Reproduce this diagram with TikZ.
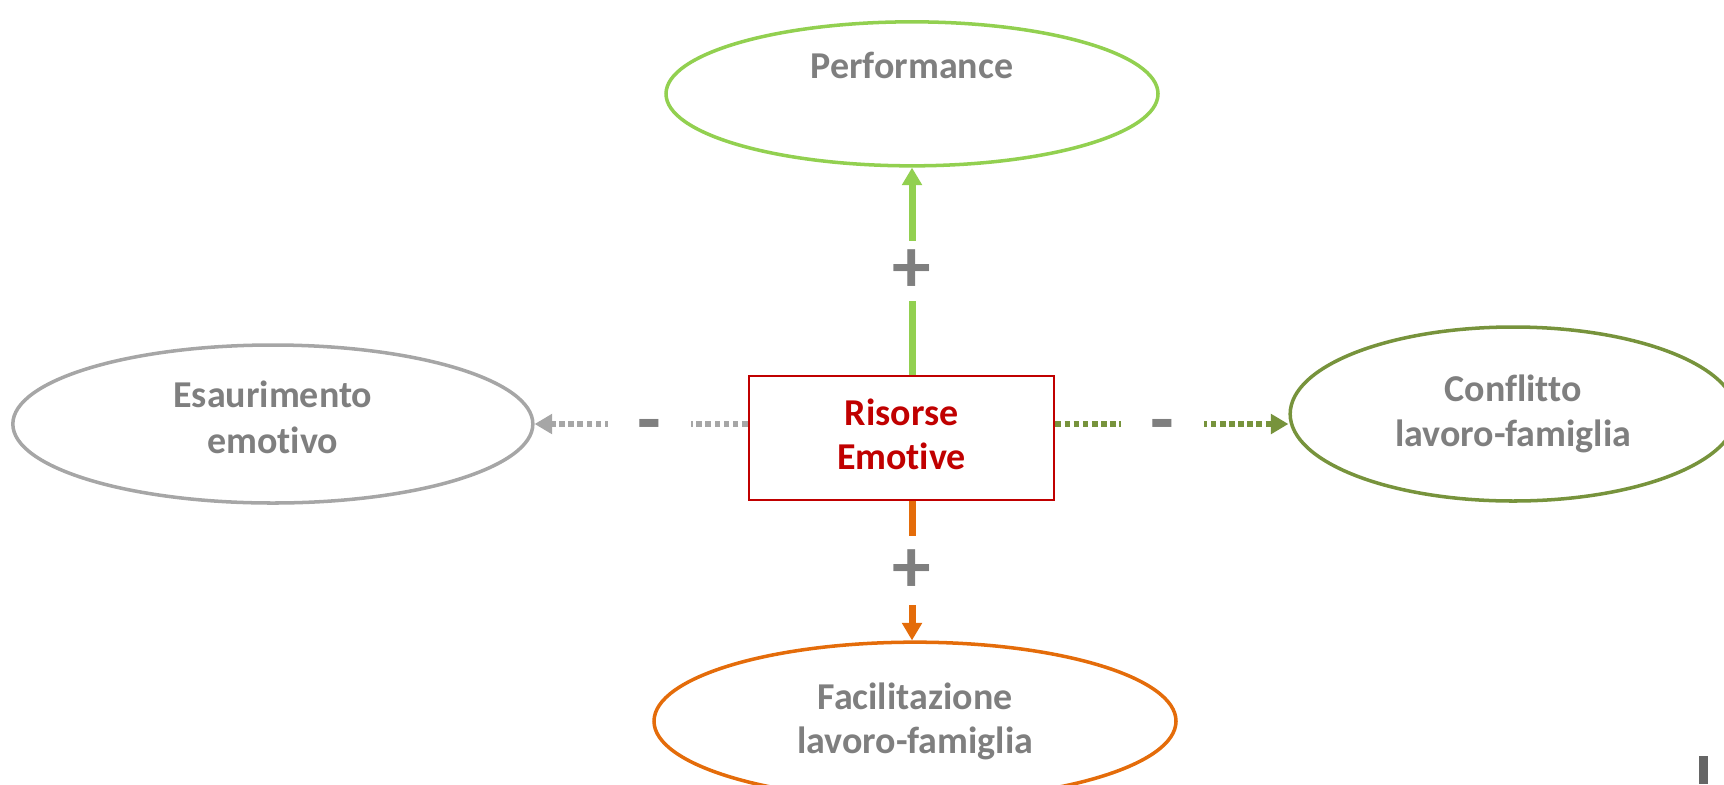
\documentclass[tikz,border=0pt]{standalone}
\usepackage{fontspec}
\setmainfont{Carlito}[Ligatures={TeX,NoCommon}]
\usepackage{tikz}
\usetikzlibrary{shapes,arrows.meta,positioning}

\definecolor{labelgray}{HTML}{7F7F7F}
\definecolor{resred}{HTML}{C00000}
\definecolor{perfgreen}{HTML}{92D050}
\definecolor{confgreen}{HTML}{77933C}
\definecolor{facorange}{HTML}{E46C0A}
\definecolor{exhgray}{HTML}{A6A6A6}
\definecolor{bargray}{HTML}{666666}

\begin{document}
\begin{tikzpicture}[
            outcome/.style={draw, ellipse, line width=1pt, inner sep=0pt, align=center, text=labelgray, font=\bfseries\fontsize{10.8}{12.6}\selectfont},
            resbox/.style={draw=resred, line width=0.8pt, rectangle, align=center, minimum width=3.05cm, minimum height=1.24cm, text=resred, font=\bfseries\fontsize{10.8}{12.6}\selectfont},
            fullarrow/.style={line width=2pt, -{Triangle[width=5.5pt,length=5pt]}},
            dotarrow/.style={line width=1.6pt, dash pattern=on 1.6pt off 1pt, -{Triangle[width=5.5pt,length=5pt]}},
            sign/.style={fill=white, text=labelgray, inner sep=0pt, font=\bfseries\fontsize{22}{22}\selectfont},
            minus/.style={sign, pos=0.46, minimum width=0.83cm, text height=12pt, text depth=0pt},
            node distance=0.5cm
        ]
            \useasboundingbox (0,0) rectangle (17.24,7.84);
            \clip (0,0) rectangle (17.24,7.84);

            \node[resbox, text depth=2.2pt] (res) at (9.015,3.46) {Risorse\\Emotive};
            \node[outcome, draw=perfgreen, minimum width=4.92cm, minimum height=1.44cm, above=2.07cm of res, xshift=1.05mm] (perf) {Performance\\[3.4pt]\mbox{}};
            \node[outcome, draw=facorange, minimum width=5.22cm, minimum height=1.58cm, below=1.39cm of res, xshift=1.35mm] (facil) {Facilitazione\\lavoro-famiglia};
            \node[outcome, draw=exhgray, minimum width=5.20cm, minimum height=1.58cm, text depth=4pt, left=2.13cm of res, yshift=1.4mm] (exh) {Esaurimento\\[0.6pt]emotivo};
            \node[outcome, draw=confgreen, minimum width=4.46cm, minimum height=1.74cm, right=2.33cm of res, yshift=2.4mm] (conf) {Conflitto\\lavoro-famiglia};

            \draw[fullarrow, perfgreen] (perf.south |- res.north) -- node[sign, minimum height=0.6cm] {+} (perf.south);
            \draw[fullarrow, facorange] (perf.south |- res.south) -- node[sign, minimum height=0.69cm] {+} (perf.south |- facil.north);
            \draw[dotarrow, exhgray] (res.west |- exh.east) -- node[minus] {-} (exh.east);
            \draw[dotarrow, confgreen] (res.east |- exh.east) -- node[minus] {-} (conf.west |- exh.east);

            \fill[bargray] (16.99,0) rectangle (17.08,0.28);
        \end{tikzpicture}
\end{document}
